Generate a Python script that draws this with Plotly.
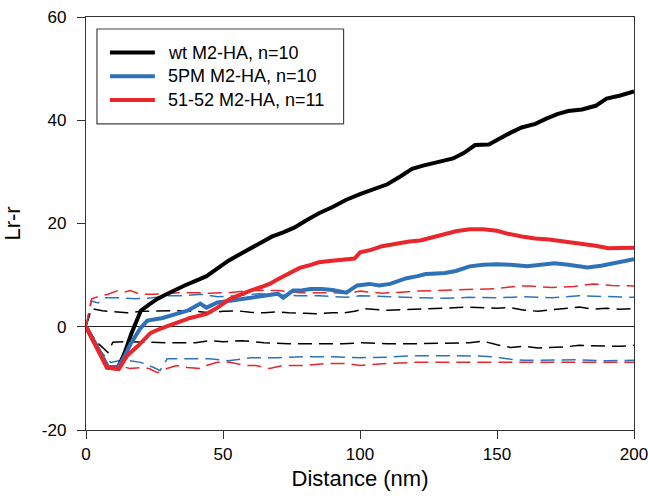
import plotly.graph_objects as go

# mean Lr-r curves (solid)
wt_x = [0, 4, 8, 11.5, 14, 16.5, 20, 23, 26, 29, 32, 36, 40, 44, 48, 52, 56, 60, 64, 68, 72, 76, 80, 85,
        90, 95, 100, 105, 110, 115, 119, 123, 129, 134, 138, 142, 147, 151, 155, 159, 164, 168, 172, 176,
        181, 186, 190, 195, 200]
wt_y = [0, -4, -7.9, -8.1, -5.2, -1.4, 3.1, 4.3, 5.4, 6.2, 7.0, 8.0, 8.9, 9.8, 11.3, 12.8, 14.0, 15.2,
        16.2, 17.5, 18.3, 19.2, 20.5, 22.0, 23.2, 24.6, 25.7, 26.7, 27.6, 29.2, 30.6, 31.2, 31.9, 32.6,
        33.7, 35.2, 35.3, 36.5, 37.6, 38.6, 39.3, 40.3, 41.2, 41.8, 42.1, 42.8, 44.2, 44.8, 45.6]

pm_x = [0, 4, 8, 11.5, 14, 16.3, 20, 22.4, 25, 28, 33, 37, 39, 41.7, 44, 48, 52, 56, 60, 64, 67, 70, 72,
        75.5, 78, 82, 86, 90, 95, 99, 103.5, 107, 111, 114, 117, 121, 124, 128, 131, 135, 140, 145, 150,
        155, 161, 166, 171, 176, 183, 188, 193, 197, 200]
pm_y = [0, -4, -7.8, -8.0, -5.8, -3.3, -0.2, 1.2, 1.5, 1.7, 2.5, 3.1, 3.7, 4.5, 3.7, 4.7, 5.0, 5.3, 5.6,
        5.8, 6.0, 6.4, 5.6, 7.0, 7.0, 7.3, 7.3, 7.1, 6.6, 8.0, 8.3, 8.0, 8.3, 8.8, 9.4, 9.8, 10.2, 10.3,
        10.4, 10.8, 11.7, 12.0, 12.1, 12.0, 11.7, 12.0, 12.3, 12.0, 11.5, 11.8, 12.3, 12.7, 13.1]

mut_x = [0, 4, 7.6, 12, 15, 19, 23.6, 28, 33, 38, 44, 48, 52.6, 56, 60, 64, 67, 70, 74, 78, 82, 85, 88,
         92, 95, 98, 100, 104, 108, 113, 118, 122, 125, 130, 135, 140, 145, 150, 154, 159, 164, 169, 175,
         181, 186, 190.6, 195, 200]
mut_y = [0, -4, -7.9, -8.2, -5.6, -3.7, -1.2, -0.2, 0.8, 1.7, 2.5, 3.7, 5.4, 6.2, 7.0, 7.7, 8.3, 9.2,
         10.2, 11.4, 12.0, 12.5, 12.7, 12.9, 13.1, 13.2, 14.4, 14.9, 15.6, 16.1, 16.5, 16.7, 17.1, 17.9,
         18.5, 18.9, 18.9, 18.6, 18.0, 17.5, 17.1, 16.9, 16.5, 16.0, 15.7, 15.2, 15.2, 15.3]

# confidence envelopes (dashed)
wt_hi_x = [0, 2, 6, 10, 15, 20, 27, 33, 40, 45, 50, 55, 60, 65, 70, 74, 80, 84, 90, 94, 98, 102, 110,
           120, 130, 140, 150, 155, 160, 165, 170, 175, 180, 185, 190, 195, 200]
wt_hi_y = [0, 3.5, 3.1, 2.9, 2.7, 3.0, 3.1, 3.1, 3.0, 2.7, 3.0, 3.1, 2.8, 2.7, 2.9, 2.7, 2.6, 2.5, 2.7,
           2.7, 3.0, 3.5, 3.2, 3.4, 3.5, 3.8, 3.6, 3.7, 3.2, 3.0, 3.3, 3.5, 3.8, 3.4, 3.6, 3.4, 3.5]
wt_lo_x = [0, 4, 8, 9.8, 15, 20, 25, 30, 40, 45, 50, 57, 65, 74, 84, 94, 101, 110, 120, 130, 140, 145,
           150, 155, 160, 165, 170, 175, 180, 185, 190, 195, 200]
wt_lo_y = [0, -3, -5, -3, -2.9, -3.0, -3.1, -3.1, -3.1, -2.7, -2.9, -2.7, -3.1, -3.3, -3.3, -3.3, -3.1,
           -3.3, -3.3, -3.2, -3.1, -2.8, -3.5, -4.0, -3.8, -4.1, -4.0, -3.9, -3.6, -3.7, -3.7, -3.8, -3.6]

pm_hi_x = [0, 2, 4.4, 7, 12, 18, 24, 30, 36, 42, 48, 55, 63, 70, 77, 85, 95, 100, 110, 120, 130, 140,
           150, 160, 170, 180, 190, 200]
pm_hi_y = [0, 5.0, 4.6, 5.6, 5.6, 5.4, 5.6, 6.0, 6.0, 6.3, 5.8, 6.0, 6.4, 6.2, 6.0, 6.0, 5.7, 6.0, 5.8,
           5.6, 5.5, 5.7, 5.6, 5.8, 5.6, 6.0, 5.9, 5.7]
pm_lo_x = [0, 4, 9, 12, 16, 20, 24.7, 27, 29.6, 33, 40, 45, 52, 57, 60, 70, 80, 90, 100, 110, 120, 130,
           140, 145, 150, 155, 160, 170, 180, 190, 200]
pm_lo_y = [0, -4, -6.9, -6.6, -6.6, -6.9, -7.9, -8.5, -6.2, -6.2, -6.2, -6.2, -6.6, -6.2, -6.0, -6.0,
           -5.8, -5.8, -6.0, -5.9, -5.6, -5.6, -5.6, -5.7, -5.9, -6.3, -6.5, -6.5, -6.4, -6.6, -6.5]

mut_hi_x = [0, 2, 5.4, 8, 11.6, 14, 16, 20, 25, 30, 35, 40, 45, 52, 60, 70, 78, 88, 96, 100, 108, 115,
            120, 128, 135, 142, 150, 158, 162, 170, 178, 185, 192, 200]
mut_hi_y = [0, 5.4, 6.0, 6.3, 7.0, 6.7, 7.0, 6.3, 6.3, 6.5, 6.6, 6.6, 6.5, 6.6, 7.0, 7.0, 6.6, 6.6, 6.5,
            6.9, 6.5, 6.7, 6.9, 7.0, 7.1, 7.3, 7.4, 7.9, 7.9, 7.6, 7.8, 8.3, 8.0, 7.9]
mut_lo_x = [0, 4, 8, 12, 16, 20, 23, 26, 29.6, 33, 37, 41.7, 44, 48, 52.6, 58, 62, 67, 72, 80, 88, 95,
            100, 110, 120, 130, 140, 150, 160, 170, 180, 190, 200]
mut_lo_y = [0, -4, -7.6, -7.5, -8.1, -7.9, -8.1, -8.9, -8.1, -7.5, -7.9, -8.1, -7.5, -6.9, -6.9, -7.5,
            -7.5, -8.1, -7.5, -7.5, -7.1, -7.1, -7.5, -7.1, -6.9, -6.9, -6.9, -6.9, -6.9, -6.9, -7.0, -6.9,
            -6.9]

x_ticks = [0, 50, 100, 150, 200]
y_ticks = [-20, 0, 20, 40, 60]
y_ticktext = ['-20', '0', '20', '40', '60']

BLACK = '#000000'
BLUE = '#2F72B8'
RED = '#E8262B'
font = 'Liberation Sans, Arial, sans-serif'

fig = go.Figure()

# dashed envelopes first so the thick lines sit on top
for xs, ys, col in [(wt_hi_x, wt_hi_y, BLACK), (wt_lo_x, wt_lo_y, BLACK),
                    (pm_hi_x, pm_hi_y, BLUE), (pm_lo_x, pm_lo_y, BLUE),
                    (mut_hi_x, mut_hi_y, RED), (mut_lo_x, mut_lo_y, RED)]:
    fig.add_trace(go.Scatter(x=xs, y=ys, mode='lines', showlegend=False, hoverinfo='skip',
                             line=dict(color=col, width=1.5, dash='14px,7px')))

series = [(wt_x, wt_y, BLACK, 'wt M2-HA, n=10'),
          (pm_x, pm_y, BLUE, '5PM M2-HA, n=10'),
          (mut_x, mut_y, RED, '51-52 M2-HA, n=11')]
for xs, ys, col, name in series:
    fig.add_trace(go.Scatter(x=xs, y=ys, mode='lines', name=name, showlegend=False,
                             line=dict(color=col, width=4)))

# legend drawn by hand (box, line samples, labels) in paper coordinates
fig.add_shape(type='rect', xref='paper', yref='paper', x0=0.02, x1=0.47, y0=0.741, y1=0.971,
              line=dict(color='#444', width=1.2), fillcolor='white', layer='above')
for i, (xs, ys, col, name) in enumerate(series):
    yy = 0.914 - i * 0.0575
    fig.add_shape(type='line', xref='paper', yref='paper', x0=0.0437, x1=0.1257, y0=yy, y1=yy,
                  line=dict(color=col, width=4), layer='above')
    fig.add_annotation(xref='paper', yref='paper', x=0.1457, y=yy, text=name, showarrow=False,
                       xanchor='left', yanchor='middle', font=dict(size=18, color='black'))

fig.update_layout(
    width=648, height=500,
    margin=dict(l=86, r=14, t=17, b=70),
    paper_bgcolor='white', plot_bgcolor='white',
    font=dict(family=font, size=17, color='black'),
    showlegend=False,
    xaxis=dict(
        range=[0, 200], tickvals=x_ticks,
        showline=True, mirror=True, linecolor='#333', linewidth=1.3,
        ticks='outside', ticklen=8, tickcolor='#333',
        ticklabeloverflow='allow', automargin=False,
        showgrid=False, zeroline=False,
        title=dict(text='Distance (nm)', font=dict(size=22), standoff=8),
    ),
    yaxis=dict(
        range=[-20, 60], tickvals=y_ticks, ticktext=y_ticktext,
        showline=True, mirror=True, linecolor='#333', linewidth=1.3,
        ticks='outside', ticklen=8, tickcolor='#333', ticklabelstandoff=7,
        ticklabeloverflow='allow', automargin=False,
        showgrid=False, zeroline=True, zerolinecolor='#222', zerolinewidth=1,
        title=dict(text='Lr-r', font=dict(size=22), standoff=28),
    ),
)

# drop the default page margin so the 648x500 figure fills the window exactly
fig.write_html("out.html", config={'displayModeBar': False},
               post_script="document.body.style.margin='0';")
